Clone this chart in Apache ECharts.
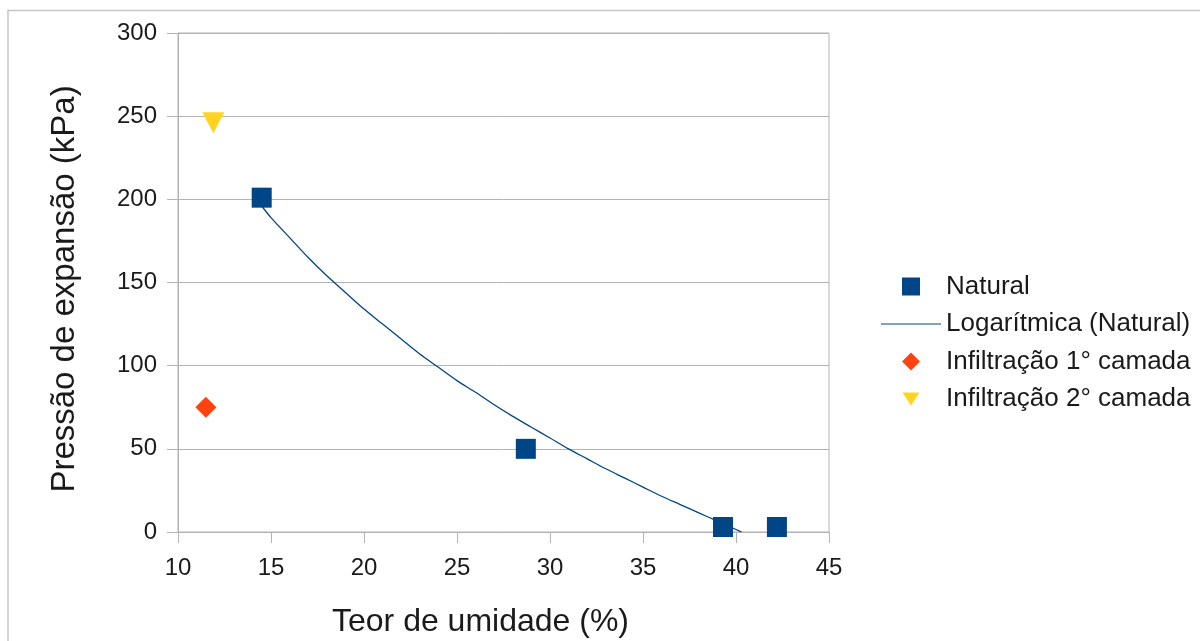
<!DOCTYPE html>
<html>
<head>
<meta charset="utf-8">
<script src="https://cdn.jsdelivr.net/npm/echarts@6/dist/echarts.min.js"></script>
<style>
html,body{margin:0;padding:0;background:#fff;}
#chart{width:1200px;height:641px;}
</style>
</head>
<body>
<div id="chart"></div>
<script>
// Data
var naturalPoints = [[14.5, 201], [28.7, 50], [39.3, 3], [42.2, 3]];
var infil1Points = [[11.5, 75]];
var infil2Points = [[11.9, 246]];
// Points
var trendPoints = [[14.5, 196], [15, 189], [16, 177], [17, 165], [18, 154], [19, 144], [20, 134], [21, 125],
  [22, 116], [23, 107], [24, 99], [25, 91], [26, 84], [27, 76.5], [28, 69.5], [29, 63], [30, 56.5], [31, 50],
  [32, 44], [33, 38], [34, 32.5], [35, 27], [36, 21.5], [37, 16.5], [38, 11.5], [39, 6.5], [40, 1.5], [40.3, 0]];
var xTicks = {min: 10, max: 45, interval: 5};
var yTicks = {min: 0, max: 300, interval: 50};

var names = ['Natural', 'Logarítmica (Natural)', 'Infiltração 1° camada', 'Infiltração 2° camada'];
var colors = {natural: '#004586', infil1: '#ff420e', infil2: '#ffd320'};
var FONT = 'Liberation Sans, Arial, sans-serif';
var TXT = '#1a1a1a';
var GRID_C = '#b3b3b3';

var chart = echarts.init(document.getElementById('chart'));
chart.setOption({
  animation: false,
  backgroundColor: '#fff',
  textStyle: {fontFamily: FONT},
  graphic: [{
    type: 'rect', silent: true, z: -10,
    shape: {x: 8, y: 10.5, width: 1400, height: 900},
    style: {fill: 'none', stroke: '#c6c6c6', lineWidth: 1.5}
  }],
  grid: {
    left: 178, right: 371, top: 33, bottom: 109,
    containLabel: false, outerBoundsMode: 'none',
    show: true, borderColor: GRID_C, borderWidth: 1, backgroundColor: 'transparent'
  },
  legend: {
    orient: 'vertical',
    left: 876, top: 268.5,
    itemWidth: 60, itemHeight: 18, itemGap: 11.5,
    textStyle: {fontFamily: FONT, fontSize: 26, color: TXT, lineHeight: 26},
    data: [
      {name: names[0], icon: 'path://M0,0M60,18M21,0L39,0L39,18L21,18Z'},
      {name: names[1], icon: 'path://M0,0M60,18M0,8.4L60,8.4L60,9.6L0,9.6Z'},
      {name: names[2], icon: 'path://M0,0M60,18M30,0L39,9L30,18L21,9Z'},
      {name: names[3], icon: 'path://M0,0M60,18M21.5,2.5L38.5,2.5L30,15.5Z'}
    ]
  },
  xAxis: {
    type: 'value', min: xTicks.min, max: xTicks.max, interval: xTicks.interval,
    name: 'Teor de umidade (%)', nameLocation: 'middle', nameGap: 74,
    nameTextStyle: {fontFamily: FONT, fontSize: 32, color: TXT, padding: [0, 46, 0, 0]},
    axisLine: {show: true, lineStyle: {color: GRID_C, width: 1}},
    axisTick: {show: true, length: 11, inside: false, lineStyle: {color: GRID_C}},
    axisLabel: {fontFamily: FONT, fontSize: 24, color: TXT, margin: 24},
    splitLine: {show: false}
  },
  yAxis: {
    type: 'value', min: yTicks.min, max: yTicks.max, interval: yTicks.interval,
    name: 'Pressão de expansão (kPa)', nameLocation: 'middle', nameGap: 97,
    nameTextStyle: {fontFamily: FONT, fontSize: 33, color: TXT, padding: [0, 13, 0, 0]},
    axisLine: {show: true, lineStyle: {color: GRID_C, width: 1}},
    axisTick: {show: true, length: 11, inside: false, lineStyle: {color: GRID_C}},
    axisLabel: {fontFamily: FONT, fontSize: 24, color: TXT, margin: 21},
    splitLine: {show: true, lineStyle: {color: GRID_C, width: 1}}
  },
  series: [
    {
      name: names[1], type: 'line', data: trendPoints, smooth: 0.3,
      symbol: 'none', showSymbol: false, z: 2,
      lineStyle: {color: colors.natural, width: 1.3},
      itemStyle: {color: colors.natural}
    },
    {
      name: names[0], type: 'scatter', data: naturalPoints, z: 5,
      symbol: 'rect', symbolSize: 20,
      itemStyle: {color: colors.natural, opacity: 1}
    },
    {
      name: names[2], type: 'scatter', data: infil1Points, z: 5,
      symbol: 'diamond', symbolSize: 21,
      itemStyle: {color: colors.infil1, opacity: 1}
    },
    {
      name: names[3], type: 'scatter', data: infil2Points, z: 5,
      symbol: 'triangle', symbolRotate: 180, symbolSize: [22, 21],
      itemStyle: {color: colors.infil2, opacity: 1}
    }
  ]
});
</script>
</body>
</html>
